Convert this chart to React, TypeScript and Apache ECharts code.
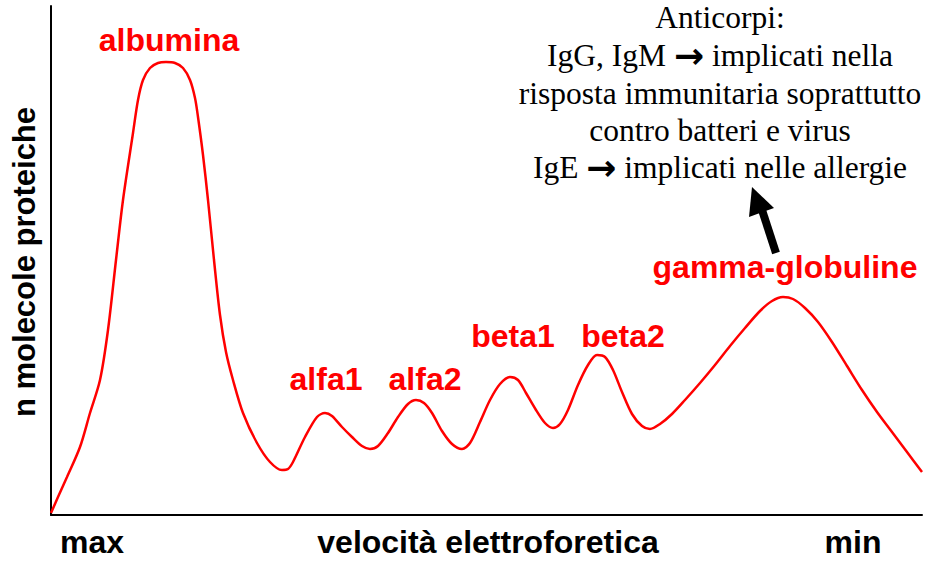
import React, { useEffect, useRef } from "react";
import * as echarts from "echarts";

// Electrophoretic mobility (arbitrary units, left = max velocity)
const mobility = [
  0, 7, 16, 29, 39, 49, 57, 65, 72, 82,
  87, 92, 99, 107, 115, 124, 132, 139, 144, 147,
  152, 157, 163, 169, 175, 182, 192, 206, 219, 231,
  237, 242, 254, 266, 274, 281, 291, 301, 311, 319,
  327, 337, 347, 357, 365, 373, 381, 391, 401, 411,
  419, 429, 439, 449, 459, 467, 475, 485, 494, 502,
  509, 517, 527, 537, 546, 554, 562, 571, 581, 591,
  599, 609, 621, 634, 649, 664, 679, 694, 709, 721,
  732, 742, 754, 767, 781, 796, 811, 826, 841, 856,
  871,
];

// Number of protein molecules (arbitrary units)
const molecules = [
  2, 18, 38, 68, 102, 135, 185, 255, 315, 382,
  415, 435, 447, 452, 453, 452, 447, 435, 417, 398,
  360, 315, 255, 200, 163, 135, 102, 72, 53, 45,
  46, 53, 78, 98, 102, 99, 88, 78, 69, 66,
  69, 82, 98, 111, 115, 112, 102, 84, 71, 66,
  72, 93, 115, 131, 138, 135, 122, 105, 92, 87,
  91, 105, 130, 150, 160, 158, 145, 123, 101, 89,
  86, 91, 101, 115, 132, 150, 169, 187, 204, 214,
  218, 216, 207, 193, 173, 149, 125, 103, 83, 63,
  43,
];

const xMin = 0;
const xMax = 871;
const yMin = 0;
const yMax = 509;

const fractionLabels = ["albumina", "alfa1", "alfa2", "beta1", "beta2", "gamma-globuline"];
const axisTexts = ["max", "velocità elettroforetica", "min"];
const yAxisTitle = "n molecole proteiche";
const noteLines = [
  "Anticorpi:",
  "IgG, IgM {arr|\u2192} implicati nella",
  "risposta immunitaria soprattutto",
  "contro batteri e virus",
  "IgE {arr|\u2192} implicati nelle allergie",
];

const SANS = '"Liberation Sans", Arial, Helvetica, sans-serif';
const SERIF = '"Liberation Serif", "Times New Roman", Times, serif';

export default function App() {
  const ref = useRef<HTMLDivElement>(null);

  useEffect(() => {
    document.body.style.margin = "0";
    if (!ref.current) return;
    const chart = echarts.init(ref.current, undefined, { renderer: "svg" });

    const labelPos: [number, number][] = [
      [169, 40],
      [326, 379],
      [425, 379],
      [513, 336],
      [623, 336],
      [785, 267],
    ];
    const bottomPos: [number, number][] = [
      [92, 542],
      [488, 542],
      [853, 542],
    ];
    const noteY = [17, 55, 93, 130, 167];

    const graphics: any[] = [];
    fractionLabels.forEach((t, i) => {
      graphics.push({
        type: "text",
        x: labelPos[i][0],
        y: labelPos[i][1],
        style: {
          text: t,
          fill: "#ff0000",
          font: `bold 32px ${SANS}`,
          align: "center",
          verticalAlign: "middle",
        },
      });
    });
    axisTexts.forEach((t, i) => {
      graphics.push({
        type: "text",
        x: bottomPos[i][0],
        y: bottomPos[i][1],
        style: {
          text: t,
          fill: "#000000",
          font: `bold 32px ${SANS}`,
          align: "center",
          verticalAlign: "middle",
        },
      });
    });
    graphics.push({
      type: "text",
      x: 24,
      y: 262,
      rotation: Math.PI / 2,
      style: {
        text: yAxisTitle,
        fill: "#000000",
        font: `bold 31px ${SANS}`,
        align: "center",
        verticalAlign: "middle",
      },
    });
    noteLines.forEach((t, i) => {
      graphics.push({
        type: "text",
        x: 720,
        y: noteY[i],
        style: {
          text: t,
          fill: "#000000",
          font: `31.5px ${SERIF}`,
          align: "center",
          verticalAlign: "middle",
          rich: {
            arr: {
              font: 'bold 36px "DejaVu Sans", sans-serif',
              fill: "#000000",
              padding: [0, 0, 0, 0],
            },
          },
        },
      });
    });
    // black arrow pointing to the antibody note
    graphics.push({
      type: "line",
      shape: { x1: 776, y1: 253, x2: 762, y2: 210 },
      style: { stroke: "#000000", lineWidth: 8, lineCap: "butt" },
    });
    graphics.push({
      type: "polygon",
      shape: { points: [[752, 187], [749, 217], [774, 208]] },
      style: { fill: "#000000" },
    });

    chart.setOption({
      animation: false,
      backgroundColor: "#ffffff",
      grid: { left: 51, right: 9, top: 6, bottom: 47, containLabel: false },
      xAxis: {
        type: "value",
        min: xMin,
        max: xMax,
        axisLine: { show: true, lineStyle: { color: "#000000", width: 2 } },
        axisTick: { show: false },
        axisLabel: { show: false },
        splitLine: { show: false },
      },
      yAxis: {
        type: "value",
        min: yMin,
        max: yMax,
        axisLine: { show: true, lineStyle: { color: "#000000", width: 2 } },
        axisTick: { show: false },
        axisLabel: { show: false },
        splitLine: { show: false },
      },
      series: [
        {
          type: "line",
          data: mobility.map((x, i) => [x, molecules[i]]),
          smooth: 0.3,
          showSymbol: false,
          lineStyle: { color: "#ff0000", width: 2.5 },
        },
      ],
      graphic: graphics,
    });

    return () => chart.dispose();
  }, []);

  return <div ref={ref} style={{ width: 931, height: 562 }} />;
}
